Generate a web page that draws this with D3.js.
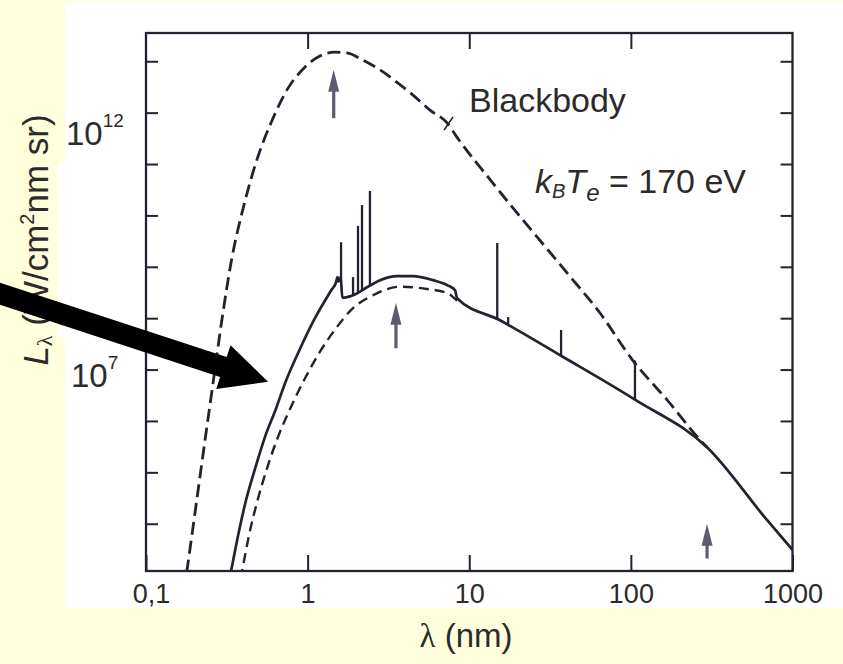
<!DOCTYPE html>
<html>
<head>
<meta charset="utf-8">
<script src="https://cdn.jsdelivr.net/npm/d3@7"></script>
<style>
  body { margin: 0; background: #ffffdd; }
  svg { display: block; }
</style>
</head>
<body>
<svg id="chart" width="843" height="664"></svg>
<script>
// axis ticks
const xTicks = [0.1, 1, 10, 100, 1000];
const xTickLabels = ["0,1", "1", "10", "100", "1000"];
const yTicks = [1e4, 1e5, 1e6, 1e7, 1e8, 1e9, 1e10, 1e11, 1e12, 1e13];

// blackbody at 170 eV (upper dashed curve), lambda in nm, L in W/(cm2 nm sr)
const hotLambda = [0.165, 0.179, 0.207, 0.232, 0.26, 0.295, 0.34, 0.404, 0.493, 0.603, 0.757, 0.951, 1.19, 1.46, 1.75, 2.2, 2.81, 3.57, 4.49, 5.71, 7.29, 8.41, 13.5, 21.5, 30.8, 40.3, 64.4, 103, 167, 280, 296];
const hotL = [2.1e2, 1.2e3, 3.2e4, 4.3e5, 5.5e6, 9.4e7, 1.48e9, 1.6e10, 1.4e11, 7.1e11, 3.0e12, 7.4e12, 1.26e13, 1.5e13, 1.45e13, 1.05e13, 6.8e12, 3.9e12, 2.2e12, 1.12e12, 6.3e11, 3.3e11, 4.9e10, 8.1e9, 2.1e9, 7.6e8, 1.26e8, 1.5e7, 2.6e6, 3.7e5, 3.1e5];

// plasma emission (solid curve)
const plasmaLambda = [0.299, 0.336, 0.373, 0.416, 0.476, 0.545, 0.632, 0.734, 0.879, 1.11, 1.4, 1.5, 1.53, 1.55, 1.6, 1.64, 1.91, 2.33, 2.81, 3.57, 4.49, 5.97, 7.29, 8.17, 8.41, 15.5, 37, 106, 300, 697, 1000];
const plasmaL = [2.1e2, 1.2e3, 6.3e3, 2.9e4, 1.26e5, 4.9e5, 1.62e6, 6.0e6, 2.2e7, 1.0e8, 3.5e8, 5.0e8, 6.3e8, 5.2e8, 6.3e8, 2.5e8, 2.8e8, 4.0e8, 5.5e8, 6.6e8, 6.6e8, 5.5e8, 4.4e8, 3.5e8, 2.45e8, 9.1e7, 1.86e7, 2.6e6, 2.95e5, 1.17e4, 3.1e3];

// lower dashed curve
const coolLambda = [0.35, 0.393, 0.434, 0.486, 0.561, 0.656, 0.778, 0.964, 1.19, 1.5, 1.88, 2.54, 3.73, 5.48, 7.29, 8.41];
const coolL = [2.1e2, 1.2e3, 6.0e3, 2.6e4, 1.2e5, 4.9e5, 1.7e6, 6.8e6, 2.2e7, 6.4e7, 1.5e8, 2.8e8, 4.1e8, 3.7e8, 3.1e8, 2.2e8];

// emission lines on the solid curve: wavelength and peak value
const lineLambda = [1.61, 1.91, 2.05, 2.17, 2.43, 14.9, 17.4, 37, 106];
const lineTop = [3.0e9, 6.3e8, 6.2e9, 1.6e10, 3.0e10, 2.9e9, 1.05e8, 5.9e7, 1.5e7];

// small arrows marking the peaks
const markLambda = [1.45, 3.52, 296];
const markTip = [6.8e12, 2.0e8, 1.0e4];
const markTail = [7.8e11, 2.6e7, 2.1e3];

const svg = d3.select("#chart");

// white scanned page on the yellow slide
svg.append("rect").attr("x", 65).attr("y", 2).attr("width", 778).attr("height", 606).attr("fill", "#ffffff");
svg.append("rect").attr("x", 58).attr("y", 163).attr("width", 10).attr("height", 174).attr("fill", "#ffffff");

const x = d3.scaleLog().domain([0.1, 1000]).range([146, 792.5]);
const y = d3.scaleLog().domain([Math.pow(10, 3.08), Math.pow(10, 13.55)]).range([571, 33]);

const ink = "#222230";

// frame
svg.append("rect")
  .attr("x", x(0.1)).attr("y", y.range()[1])
  .attr("width", x(1000) - x(0.1)).attr("height", y.range()[0] - y.range()[1])
  .attr("fill", "none").attr("stroke", ink).attr("stroke-width", 2.3);

function styleAxis(g) {
  g.select(".domain").remove();
  g.selectAll(".tick line").attr("stroke", ink).attr("stroke-width", 2);
  g.attr("font-family", null).attr("font-size", null);
}

svg.append("g")
  .attr("transform", `translate(0,${y.range()[0]})`)
  .call(d3.axisBottom(x).tickValues(xTicks).tickSize(-16).tickPadding(13)
    .tickFormat((d, i) => xTickLabels[i]))
  .call(styleAxis)
  .selectAll("text")
  .attr("dx", (d, i) => i === 0 ? 5 : 0)
  .attr("font-family", "'Liberation Sans', Arial, sans-serif")
  .attr("font-size", 27).attr("fill", "#2a2a2a");

svg.append("g")
  .attr("transform", `translate(0,${y.range()[1]})`)
  .call(d3.axisTop(x).tickValues([1, 10, 100]).tickSize(-16).tickFormat(""))
  .call(styleAxis);

svg.append("g")
  .attr("transform", `translate(${x(0.1)},0)`)
  .call(d3.axisLeft(y).tickValues(yTicks).tickSize(-12).tickFormat(""))
  .call(styleAxis);

svg.append("g")
  .attr("transform", `translate(${x(1000)},0)`)
  .call(d3.axisRight(y).tickValues(yTicks).tickSize(-12).tickFormat(""))
  .call(styleAxis);

// curves
svg.append("clipPath").attr("id", "plot")
  .append("rect")
  .attr("x", x(0.1)).attr("y", y.range()[1])
  .attr("width", x(1000) - x(0.1)).attr("height", y.range()[0] - y.range()[1]);

const plot = svg.append("g").attr("clip-path", "url(#plot)");

const line = d3.line()
  .x(d => x(d[0]))
  .y(d => y(d[1]))
  .curve(d3.curveMonotoneX);

plot.append("path")
  .datum(d3.zip(hotLambda, hotL))
  .attr("d", line)
  .attr("fill", "none").attr("stroke", ink)
  .attr("stroke-width", 2.8).attr("stroke-dasharray", "13,6");

plot.append("path")
  .datum(d3.zip(coolLambda, coolL))
  .attr("d", line)
  .attr("fill", "none").attr("stroke", ink)
  .attr("stroke-width", 2.4).attr("stroke-dasharray", "10,6");

plot.append("path")
  .datum(d3.zip(plasmaLambda, plasmaL))
  .attr("d", line)
  .attr("fill", "none").attr("stroke", ink)
  .attr("stroke-width", 2.7).attr("stroke-linejoin", "round");

// base of each emission line sits on the solid curve
const plasmaAt = d3.scaleLog().domain(plasmaLambda).range(plasmaL.map(Math.log10));

plot.selectAll(".spike")
  .data(d3.zip(lineLambda, lineTop))
  .join("line")
  .attr("class", "spike")
  .attr("x1", d => x(d[0])).attr("x2", d => x(d[0]))
  .attr("y1", d => y(Math.pow(10, plasmaAt(d[0]))))
  .attr("y2", d => y(d[1]))
  .attr("stroke", ink).attr("stroke-width", 2.3);

// small grey arrows
const markColor = "#5e5c70";
const marks = svg.append("g").selectAll("g")
  .data(markLambda.map((l, i) => ({ l, tip: markTip[i], tail: markTail[i] })))
  .join("g");

marks.append("line")
  .attr("x1", d => x(d.l)).attr("x2", d => x(d.l))
  .attr("y1", d => y(d.tail)).attr("y2", d => y(d.tip) + 15)
  .attr("stroke", markColor).attr("stroke-width", 3.2);

marks.append("path")
  .attr("d", d => {
    const px = x(d.l), py = y(d.tip);
    return `M${px},${py}L${px - 5.5},${py + 22}L${px + 5.5},${py + 22}Z`;
  })
  .attr("fill", markColor);

// leader mark from the label to the blackbody curve
const lead = [x(7.29), y(6.3e11)];
svg.append("path")
  .attr("d", `M${lead[0] - 3},${lead[1] + 7}L${lead[0] + 6},${lead[1] - 6}`)
  .attr("stroke", ink).attr("stroke-width", 1.5);

// big black arrow pointing to the solid curve
const tip = [x(0.569), y(5.8e6)];
const start = [-5, tip[1] - 0.328 * (tip[0] + 5)];
const len = Math.hypot(tip[0] - start[0], tip[1] - start[1]);
const ux = (tip[0] - start[0]) / len, uy = (tip[1] - start[1]) / len;
const nx = -uy, ny = ux;
const headLen = 47, headHalf = 23, shaftHalf = 10.5;
const bx = tip[0] - ux * headLen, by = tip[1] - uy * headLen;
const arrowPts = [
  [start[0] + nx * shaftHalf, start[1] + ny * shaftHalf],
  [bx + nx * shaftHalf, by + ny * shaftHalf],
  [bx + nx * headHalf, by + ny * headHalf],
  tip,
  [bx - nx * headHalf, by - ny * headHalf],
  [bx - nx * shaftHalf, by - ny * shaftHalf],
  [start[0] - nx * shaftHalf, start[1] - ny * shaftHalf]
];

// texts
const sans = "'Liberation Sans', Arial, sans-serif";
const serif = "'Liberation Serif', 'Times New Roman', serif";
const textColor = "#2b2b2b";

function powerLabel(px, py, exp) {
  const t = svg.append("text").attr("x", px).attr("y", py)
    .attr("font-family", sans).attr("font-size", 33).attr("fill", textColor);
  t.append("tspan").text("10");
  t.append("tspan").attr("font-size", 19).attr("dy", -18).text(exp);
}
powerLabel(66, 145, "12");
powerLabel(71, 387, "7");

const yl = svg.append("text")
  .attr("transform", "translate(48,240) rotate(-90)")
  .attr("text-anchor", "middle")
  .attr("font-family", sans).attr("font-size", 35).attr("fill", textColor);
yl.append("tspan").attr("font-style", "italic").text("L");
yl.append("tspan").attr("font-family", serif).attr("font-size", 22).attr("dy", 4).text("λ");
yl.append("tspan").attr("dy", -4).text(" (W/cm");
yl.append("tspan").attr("font-size", 20).attr("dy", -14).text("2");
yl.append("tspan").attr("dy", 14).text("nm sr)");

svg.append("path")
  .attr("d", "M" + arrowPts.map(p => p.join(",")).join("L") + "Z")
  .attr("fill", "#000");

svg.append("text").attr("x", 469).attr("y", 112)
  .attr("font-family", sans).attr("font-size", 34).attr("fill", textColor)
  .text("Blackbody");

const kt = svg.append("text").attr("x", 535).attr("y", 193)
  .attr("font-family", sans).attr("font-size", 34).attr("fill", textColor);
kt.append("tspan").attr("font-style", "italic").text("k");
kt.append("tspan").attr("font-style", "italic").attr("font-size", 20).attr("dy", 5).text("B");
kt.append("tspan").attr("font-style", "italic").attr("dy", -5).text("T");
kt.append("tspan").attr("font-style", "italic").attr("font-size", 24).attr("dy", 8).text("e");
kt.append("tspan").attr("dy", -8).text(" = 170 eV");

const xl = svg.append("text").attr("x", 466).attr("y", 647)
  .attr("text-anchor", "middle")
  .attr("font-family", sans).attr("font-size", 33).attr("fill", textColor);
xl.append("tspan").attr("font-family", serif).text("λ");
xl.append("tspan").text(" (nm)");
</script>
</body>
</html>
